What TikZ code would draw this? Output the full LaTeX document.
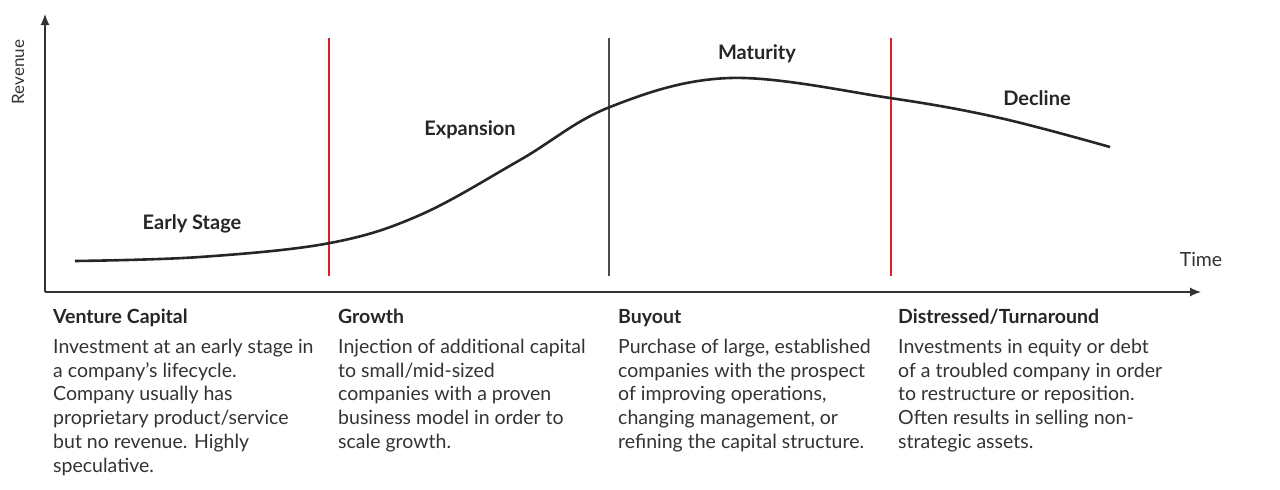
\documentclass[tikz,border=0pt]{standalone}
\usepackage{fontspec}
\setmainfont{Lato}
\usetikzlibrary{arrows.meta}
\definecolor{sepred}{RGB}{220,30,40}
\begin{document}
\begin{tikzpicture}[x=1pt,y=-1pt,
  lbl/.style={font=\fontsize{20}{22}\selectfont\bfseries, text=black!85},
  head/.style={anchor=north west, inner sep=0, font=\fontsize{19.5}{22}\selectfont\bfseries, text=black!85},
  body/.style={anchor=north west, inner sep=0, align=left, font=\fontsize{19.5}{23.7}\selectfont, text=black!80},
  axis/.style={draw=black!80, line width=1.2pt, -{Latex[length=11pt,width=9pt]}},
  sep/.style={line width=1.1pt}]
\useasboundingbox (0,0) rectangle (1280,490);
\coordinate (o) at (45,292);
\coordinate (ytop) at (45,14);
\coordinate (xend) at (1201,292);
\draw[axis] (o) -- (ytop);
\draw[axis] (o) -- (xend);
\draw[sep, draw=sepred] (329,38) -- (329,276);
\draw[sep, draw=black!70] (609,38) -- (609,276);
\draw[sep, draw=sepred] (891,38) -- (891,276);
\draw[line width=2.6pt, draw=black!85] plot[smooth, tension=0.6] coordinates
 {(75,261) (200,257) (330,243) (420,215) (520,160) (610,107) (730,78) (890,98) (1000,118) (1110,147)};
\node[lbl] (es) at (192,224) {Early Stage};
\node[lbl] (ex) at (470,130) {Expansion};
\node[lbl] (ma) at (757,54) {Maturity};
\node[lbl] (de) at (1037,98) {Decline};
\node[font=\fontsize{19.5}{22}\selectfont, text=black!80] (t) at (1201,259) {Time};
\node[font=\fontsize{17}{20}\selectfont, text=black!80, rotate=90] (r) at (18,72) {Revenue};
\node[head] (h1) at (53,309) {Venture Capital};
\node[head] (h2) at (338,309) {Growth};
\node[head] (h3) at (618,309) {Buyout};
\node[head] (h4) at (898,309) {Distressed/Turnaround};
\node[body] (b1) at (53,339) {Investment at an early stage in\\a company’s lifecycle.\\Company usually has\\proprietary product/service\\but no revenue. Highly\\speculative.};
\node[body] (b2) at (338,339) {Injection of additional capital\\to small/mid-sized\\companies with a proven\\business model in order to\\scale growth.};
\node[body] (b3) at (618,339) {Purchase of large, established\\companies with the prospect\\of improving operations,\\changing management, or\\refining the capital structure.};
\node[body] (b4) at (898,339) {Investments in equity or debt\\of a troubled company in order\\to restructure or reposition.\\Often results in selling non-\\strategic assets.};
\end{tikzpicture}
\end{document}
